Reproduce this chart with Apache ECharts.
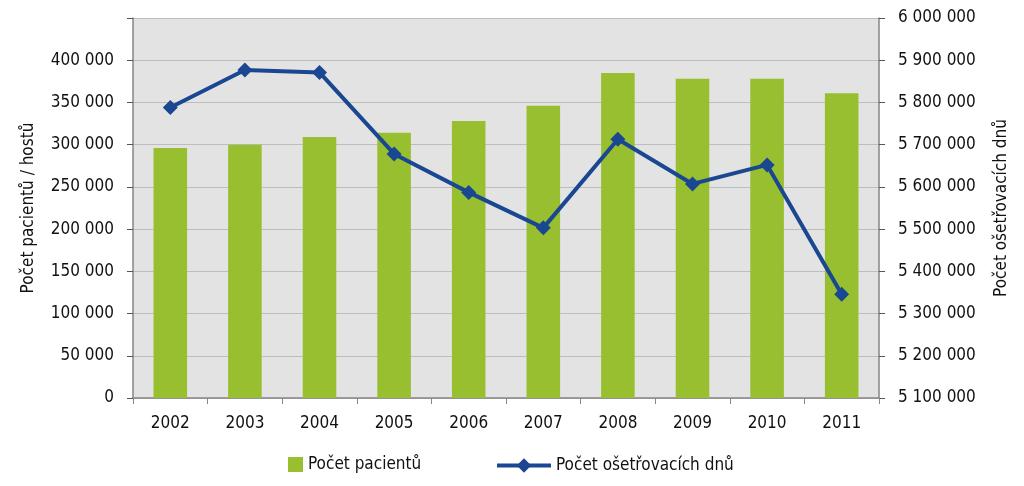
<!DOCTYPE html>
<html lang="cs">
<head>
<meta charset="UTF-8">
<title>Počet pacientů a ošetřovacích dnů</title>
<script src="https://cdn.jsdelivr.net/npm/echarts@6/dist/echarts.min.js"></script>
<style>
  html, body { margin: 0; padding: 0; background: #fff; }
  #main { width: 1024px; height: 486px; }
</style>
</head>
<body>
<div id="main"></div>
<script>
const years = ['2002','2003','2004','2005','2006','2007','2008','2009','2010','2011'];
const patients = [296000, 300000, 309000, 314000, 328000, 346000, 385000, 378000, 378000, 361000];
const careDays = [5788000, 5877000, 5871000, 5678000, 5587000, 5503000, 5713000, 5607000, 5652000, 5346000];

const font = '"Liberation Sans Narrow", "DejaVu Sans Condensed", "Noto Sans", sans-serif';
const fmt = v => String(v).replace(/\B(?=(\d{3})+(?!\d))/g, ' ');
const legendText = { fontFamily: font, fontSize: 17, color: '#111' };

const chart = echarts.init(document.getElementById('main'));
chart.setOption({
  animation: false,
  textStyle: { fontFamily: font, color: '#111' },
  grid: {
    left: 133, right: 145, top: 18, bottom: 88,
    show: true, backgroundColor: '#e3e3e3', borderWidth: 0
  },
  legend: [
    {
      left: 283, top: 451,
      icon: 'rect', itemWidth: 15, itemHeight: 15, itemGap: 12,
      textStyle: legendText,
      data: ['Počet pacientů']
    },
    {
      left: 490, top: 452,
      itemWidth: 54, itemHeight: 18,
      textStyle: legendText,
      lineStyle: { width: 4 },
      data: ['Počet ošetřovacích dnů']
    }
  ],
  xAxis: {
    type: 'category',
    data: years,
    axisLine: { lineStyle: { color: '#868686', width: 1.5 } },
    axisTick: { show: true, length: 6, lineStyle: { color: '#868686' } },
    axisLabel: { fontSize: 17, color: '#111', margin: 17, fontFamily: font }
  },
  yAxis: [
    {
      type: 'value',
      min: 0, max: 450000, interval: 50000,
      name: 'Počet pacientů / hostů',
      nameLocation: 'middle',
      nameGap: 96,
      nameTextStyle: { fontSize: 17, color: '#111', fontFamily: font },
      axisLine: { show: true, lineStyle: { color: '#868686', width: 1.5 } },
      axisTick: { show: true, length: 6, lineStyle: { color: '#555' } },
      splitLine: { lineStyle: { color: '#bdbdbd', width: 1.2 } },
      axisLabel: {
        fontSize: 17, color: '#111', margin: 19, fontFamily: font,
        formatter: v => v === 450000 ? '' : fmt(v)
      }
    },
    {
      type: 'value',
      min: 5100000, max: 6000000, interval: 100000,
      name: 'Počet ošetřovacích dnů',
      nameLocation: 'middle',
      nameGap: 114,
      nameTextStyle: { fontSize: 17, color: '#111', fontFamily: font },
      axisLine: { show: true, lineStyle: { color: '#868686', width: 1.5 } },
      axisTick: { show: true, length: 6, lineStyle: { color: '#555' } },
      splitLine: { show: false },
      axisLabel: {
        fontSize: 17, color: '#111', margin: 19, fontFamily: font,
        formatter: v => fmt(v)
      }
    }
  ],
  series: [
    {
      name: 'Počet pacientů',
      type: 'bar',
      data: patients,
      barWidth: '45%',
      itemStyle: { color: '#97bf2f' }
    },
    {
      name: 'Počet ošetřovacích dnů',
      type: 'line',
      yAxisIndex: 1,
      data: careDays,
      symbol: 'diamond',
      symbolSize: 15,
      lineStyle: { color: '#1a4791', width: 4 },
      itemStyle: { color: '#1a4791' }
    }
  ]
});
</script>
</body>
</html>
